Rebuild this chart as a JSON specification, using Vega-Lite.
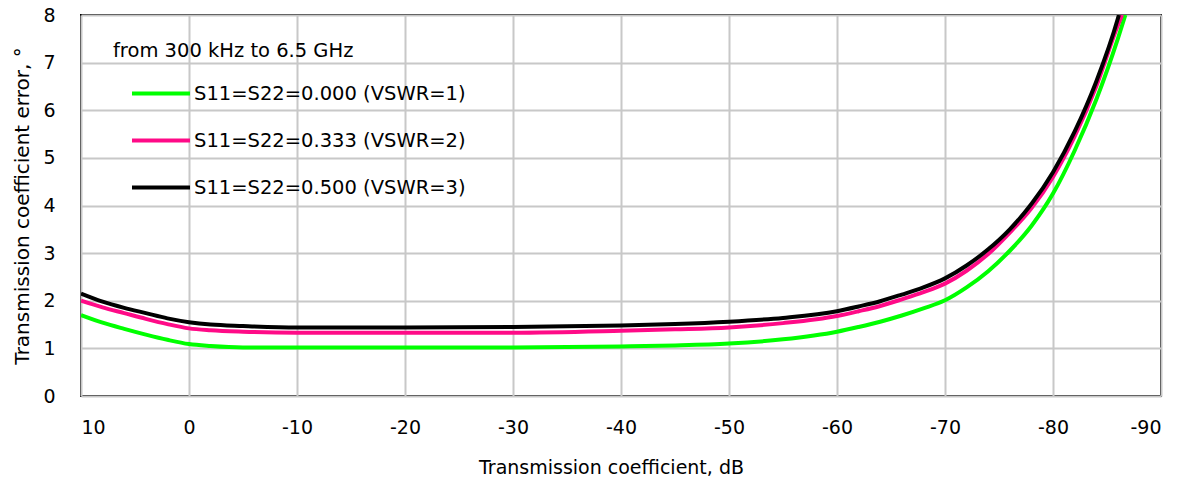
{
  "$schema": "https://vega.github.io/schema/vega-lite/v6.json",
  "width": 1080,
  "height": 381,
  "autosize": {"type": "none"},
  "padding": {"left": 81, "top": 15, "right": 25, "bottom": 88},
  "background": "white",
  "config": {
    "view": {"stroke": "black", "strokeWidth": 2},
    "font": "DejaVu Sans",
    "axis": {"labelColor": "black", "titleColor": "black", "labelFontSize": 19, "titleFontSize": 19, "titleFontWeight": "normal", "gridColor": "#c8c8c8", "gridWidth": 2, "gridOpacity": 1, "domain": false, "ticks": false}
  },
  "datasets": {
    "curves": [
      {"s": "S11=S22=0.000 (VSWR=1)", "x": 10, "y": 1.70},
      {"s": "S11=S22=0.000 (VSWR=1)", "x": 8, "y": 1.54},
      {"s": "S11=S22=0.000 (VSWR=1)", "x": 6, "y": 1.41},
      {"s": "S11=S22=0.000 (VSWR=1)", "x": 4, "y": 1.29},
      {"s": "S11=S22=0.000 (VSWR=1)", "x": 2, "y": 1.18},
      {"s": "S11=S22=0.000 (VSWR=1)", "x": 0, "y": 1.09},
      {"s": "S11=S22=0.000 (VSWR=1)", "x": -2, "y": 1.05},
      {"s": "S11=S22=0.000 (VSWR=1)", "x": -5, "y": 1.02},
      {"s": "S11=S22=0.000 (VSWR=1)", "x": -10, "y": 1.02},
      {"s": "S11=S22=0.000 (VSWR=1)", "x": -20, "y": 1.02},
      {"s": "S11=S22=0.000 (VSWR=1)", "x": -30, "y": 1.02},
      {"s": "S11=S22=0.000 (VSWR=1)", "x": -40, "y": 1.04},
      {"s": "S11=S22=0.000 (VSWR=1)", "x": -45, "y": 1.06},
      {"s": "S11=S22=0.000 (VSWR=1)", "x": -50, "y": 1.10},
      {"s": "S11=S22=0.000 (VSWR=1)", "x": -55, "y": 1.19},
      {"s": "S11=S22=0.000 (VSWR=1)", "x": -60, "y": 1.35},
      {"s": "S11=S22=0.000 (VSWR=1)", "x": -62, "y": 1.45},
      {"s": "S11=S22=0.000 (VSWR=1)", "x": -64, "y": 1.56},
      {"s": "S11=S22=0.000 (VSWR=1)", "x": -66, "y": 1.69},
      {"s": "S11=S22=0.000 (VSWR=1)", "x": -68, "y": 1.84},
      {"s": "S11=S22=0.000 (VSWR=1)", "x": -70, "y": 2.01},
      {"s": "S11=S22=0.000 (VSWR=1)", "x": -72, "y": 2.28},
      {"s": "S11=S22=0.000 (VSWR=1)", "x": -74, "y": 2.62},
      {"s": "S11=S22=0.000 (VSWR=1)", "x": -76, "y": 3.05},
      {"s": "S11=S22=0.000 (VSWR=1)", "x": -78, "y": 3.57},
      {"s": "S11=S22=0.000 (VSWR=1)", "x": -80, "y": 4.25},
      {"s": "S11=S22=0.000 (VSWR=1)", "x": -82, "y": 5.15},
      {"s": "S11=S22=0.000 (VSWR=1)", "x": -84, "y": 6.22},
      {"s": "S11=S22=0.000 (VSWR=1)", "x": -86, "y": 7.5},
      {"s": "S11=S22=0.000 (VSWR=1)", "x": -86.7, "y": 8.0},
      {"s": "S11=S22=0.333 (VSWR=2)", "x": 10, "y": 2.00},
      {"s": "S11=S22=0.333 (VSWR=2)", "x": 8, "y": 1.86},
      {"s": "S11=S22=0.333 (VSWR=2)", "x": 6, "y": 1.74},
      {"s": "S11=S22=0.333 (VSWR=2)", "x": 4, "y": 1.62},
      {"s": "S11=S22=0.333 (VSWR=2)", "x": 2, "y": 1.51},
      {"s": "S11=S22=0.333 (VSWR=2)", "x": 0, "y": 1.42},
      {"s": "S11=S22=0.333 (VSWR=2)", "x": -2, "y": 1.38},
      {"s": "S11=S22=0.333 (VSWR=2)", "x": -5, "y": 1.35},
      {"s": "S11=S22=0.333 (VSWR=2)", "x": -10, "y": 1.33},
      {"s": "S11=S22=0.333 (VSWR=2)", "x": -20, "y": 1.33},
      {"s": "S11=S22=0.333 (VSWR=2)", "x": -30, "y": 1.33},
      {"s": "S11=S22=0.333 (VSWR=2)", "x": -40, "y": 1.37},
      {"s": "S11=S22=0.333 (VSWR=2)", "x": -45, "y": 1.40},
      {"s": "S11=S22=0.333 (VSWR=2)", "x": -50, "y": 1.44},
      {"s": "S11=S22=0.333 (VSWR=2)", "x": -55, "y": 1.53},
      {"s": "S11=S22=0.333 (VSWR=2)", "x": -60, "y": 1.68},
      {"s": "S11=S22=0.333 (VSWR=2)", "x": -62, "y": 1.78},
      {"s": "S11=S22=0.333 (VSWR=2)", "x": -64, "y": 1.89},
      {"s": "S11=S22=0.333 (VSWR=2)", "x": -66, "y": 2.03},
      {"s": "S11=S22=0.333 (VSWR=2)", "x": -68, "y": 2.18},
      {"s": "S11=S22=0.333 (VSWR=2)", "x": -70, "y": 2.36},
      {"s": "S11=S22=0.333 (VSWR=2)", "x": -72, "y": 2.63},
      {"s": "S11=S22=0.333 (VSWR=2)", "x": -74, "y": 2.98},
      {"s": "S11=S22=0.333 (VSWR=2)", "x": -76, "y": 3.43},
      {"s": "S11=S22=0.333 (VSWR=2)", "x": -78, "y": 3.94},
      {"s": "S11=S22=0.333 (VSWR=2)", "x": -80, "y": 4.6},
      {"s": "S11=S22=0.333 (VSWR=2)", "x": -82, "y": 5.45},
      {"s": "S11=S22=0.333 (VSWR=2)", "x": -84, "y": 6.5},
      {"s": "S11=S22=0.333 (VSWR=2)", "x": -86, "y": 7.78},
      {"s": "S11=S22=0.333 (VSWR=2)", "x": -86.4, "y": 8.0},
      {"s": "S11=S22=0.500 (VSWR=3)", "x": 10, "y": 2.15},
      {"s": "S11=S22=0.500 (VSWR=3)", "x": 8, "y": 1.98},
      {"s": "S11=S22=0.500 (VSWR=3)", "x": 6, "y": 1.85},
      {"s": "S11=S22=0.500 (VSWR=3)", "x": 4, "y": 1.74},
      {"s": "S11=S22=0.500 (VSWR=3)", "x": 2, "y": 1.63},
      {"s": "S11=S22=0.500 (VSWR=3)", "x": 0, "y": 1.55},
      {"s": "S11=S22=0.500 (VSWR=3)", "x": -2, "y": 1.50},
      {"s": "S11=S22=0.500 (VSWR=3)", "x": -5, "y": 1.47},
      {"s": "S11=S22=0.500 (VSWR=3)", "x": -10, "y": 1.44},
      {"s": "S11=S22=0.500 (VSWR=3)", "x": -20, "y": 1.44},
      {"s": "S11=S22=0.500 (VSWR=3)", "x": -30, "y": 1.45},
      {"s": "S11=S22=0.500 (VSWR=3)", "x": -40, "y": 1.48},
      {"s": "S11=S22=0.500 (VSWR=3)", "x": -45, "y": 1.51},
      {"s": "S11=S22=0.500 (VSWR=3)", "x": -50, "y": 1.56},
      {"s": "S11=S22=0.500 (VSWR=3)", "x": -55, "y": 1.64},
      {"s": "S11=S22=0.500 (VSWR=3)", "x": -60, "y": 1.78},
      {"s": "S11=S22=0.500 (VSWR=3)", "x": -62, "y": 1.88},
      {"s": "S11=S22=0.500 (VSWR=3)", "x": -64, "y": 1.99},
      {"s": "S11=S22=0.500 (VSWR=3)", "x": -66, "y": 2.13},
      {"s": "S11=S22=0.500 (VSWR=3)", "x": -68, "y": 2.28},
      {"s": "S11=S22=0.500 (VSWR=3)", "x": -70, "y": 2.47},
      {"s": "S11=S22=0.500 (VSWR=3)", "x": -72, "y": 2.74},
      {"s": "S11=S22=0.500 (VSWR=3)", "x": -74, "y": 3.08},
      {"s": "S11=S22=0.500 (VSWR=3)", "x": -76, "y": 3.5},
      {"s": "S11=S22=0.500 (VSWR=3)", "x": -78, "y": 4.03},
      {"s": "S11=S22=0.500 (VSWR=3)", "x": -80, "y": 4.7},
      {"s": "S11=S22=0.500 (VSWR=3)", "x": -82, "y": 5.55},
      {"s": "S11=S22=0.500 (VSWR=3)", "x": -84, "y": 6.6},
      {"s": "S11=S22=0.500 (VSWR=3)", "x": -86, "y": 7.92},
      {"s": "S11=S22=0.500 (VSWR=3)", "x": -86.1, "y": 8.0}
    ]
  },
  "data": {"name": "curves"},
  "mark": {"type": "line", "strokeWidth": 4, "interpolate": "monotone", "clip": true},
  "encoding": {
    "x": {
      "field": "x", "type": "quantitative",
      "scale": {"domain": [-90, 10], "reverse": true, "nice": false, "zero": false},
      "axis": {"values": [10, 0, -10, -20, -30, -40, -50, -60, -70, -80, -90], "labelExpr": "'' + datum.value", "title": "Transmission coefficient, dB", "titleX": 530, "labelPadding": 22, "titlePadding": 21, "grid": true}
    },
    "y": {
      "field": "y", "type": "quantitative",
      "scale": {"domain": [0, 8], "nice": false},
      "axis": {"values": [0, 1, 2, 3, 4, 5, 6, 7, 8], "title": "Transmission coefficient error, °", "titleFontSize": 20, "labelPadding": 26, "titlePadding": 10, "grid": true}
    },
    "color": {
      "field": "s", "type": "nominal",
      "scale": {"domain": ["S11=S22=0.000 (VSWR=1)", "S11=S22=0.333 (VSWR=2)", "S11=S22=0.500 (VSWR=3)"], "range": ["#00ff00", "#ff0a87", "#000000"]},
      "legend": {
        "orient": "none", "legendX": 32, "legendY": 27,
        "title": "from 300 kHz to 6.5 GHz",
        "titleFontSize": 19.5, "titleFontWeight": "normal", "titleColor": "black", "titlePadding": 1, "titleLimit": 0,
        "labelFontSize": 19.5, "labelColor": "black", "labelOffset": 2, "labelLimit": 0,
        "symbolType": "stroke", "symbolSize": 3364, "symbolStrokeWidth": 4, "symbolOffset": 17,
        "rowPadding": 6, "padding": 0
      }
    }
  }
}
